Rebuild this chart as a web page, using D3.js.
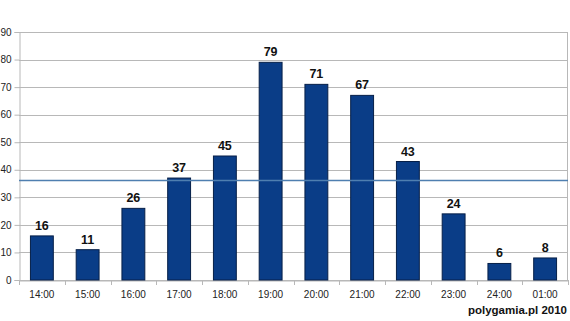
<!DOCTYPE html>
<html>
<head>
<meta charset="utf-8">
<script src="https://cdn.jsdelivr.net/npm/d3@7"></script>
<style>
  body { margin: 0; background: #fff; }
  svg { display: block; font-family: "Liberation Sans", Arial, sans-serif; }
</style>
</head>
<body>
<svg id="chart"></svg>
<script>
const width = 570;
const height = 321;

const hours = ["14:00", "15:00", "16:00", "17:00", "18:00", "19:00", "20:00", "21:00", "22:00", "23:00", "24:00", "01:00"];
const counts = [16, 11, 26, 37, 45, 79, 71, 67, 43, 24, 6, 8];
const yTicks = [0, 10, 20, 30, 40, 50, 60, 70, 80, 90];
const credit = "polygamia.pl 2010";

const margin = { top: 32, right: 2, bottom: 41, left: 19 };

const svg = d3.select("#chart").attr("width", width).attr("height", height);

const x = d3.scaleBand()
  .domain(hours)
  .range([margin.left, width - margin.right])
  .paddingInner(0.5)
  .paddingOuter(0.25);

const y = d3.scaleLinear()
  .domain([0, 90])
  .range([height - margin.bottom, margin.top]);

// gridlines
svg.append("g")
  .selectAll("line")
  .data(yTicks)
  .join("line")
  .attr("x1", margin.left)
  .attr("x2", width - margin.right)
  .attr("y1", d => Math.round(y(d)) + 0.5)
  .attr("y2", d => Math.round(y(d)) + 0.5)
  .attr("stroke", "#b8b8b8");

// right border
svg.append("line")
  .attr("x1", width - margin.right - 0.5).attr("x2", width - margin.right - 0.5)
  .attr("y1", y(90)).attr("y2", y(0))
  .attr("stroke", "#b8b8b8");

// y axis
const yAxis = svg.append("g")
  .attr("transform", `translate(${margin.left + 0.5},0)`)
  .call(d3.axisLeft(y).tickValues(yTicks).tickSize(5).tickPadding(3).tickFormat(d3.format("d")));
yAxis.select(".domain").attr("stroke", "#b8b8b8");
yAxis.selectAll(".tick line").attr("stroke", "#b8b8b8");
yAxis.selectAll("text").attr("fill", "#222").style("font-size", "10px");

// x axis with ticks at band boundaries
const xAxis = svg.append("g")
  .attr("transform", `translate(0,${Math.round(y(0)) + 0.5})`)
  .call(d3.axisBottom(x).tickSize(0).tickPadding(10));
xAxis.select(".domain").attr("stroke", "#b8b8b8");
xAxis.selectAll("text").attr("fill", "#222").style("font-size", "10px");
const step = x.step();
svg.append("g")
  .selectAll("line")
  .data(d3.range(hours.length + 1))
  .join("line")
  .attr("x1", i => Math.round(margin.left + i * step) + 0.5)
  .attr("x2", i => Math.round(margin.left + i * step) + 0.5)
  .attr("y1", y(0))
  .attr("y2", y(0) + 5)
  .attr("stroke", "#b8b8b8");

// bars
svg.append("g")
  .selectAll("rect")
  .data(hours)
  .join("rect")
  .attr("x", (d, i) => x(d))
  .attr("y", (d, i) => y(counts[i]))
  .attr("width", x.bandwidth())
  .attr("height", (d, i) => y(0) - y(counts[i]))
  .attr("fill", "#0a3d87")
  .attr("stroke", "#061f48")
  .attr("stroke-width", 1);

// mean line
const mean = d3.mean(counts);
svg.append("line")
  .attr("x1", margin.left)
  .attr("x2", width - margin.right)
  .attr("y1", y(mean))
  .attr("y2", y(mean))
  .attr("stroke", "#4f7fb0")
  .attr("stroke-width", 1.5);

// value labels
svg.append("g")
  .selectAll("text")
  .data(hours)
  .join("text")
  .attr("x", d => x(d) + x.bandwidth() / 2)
  .attr("y", (d, i) => y(counts[i]) - 6)
  .attr("text-anchor", "middle")
  .attr("font-weight", "bold")
  .attr("font-size", "12.5px")
  .attr("fill", "#111")
  .text((d, i) => counts[i]);

// credit
svg.append("text")
  .attr("x", width - 3)
  .attr("y", 314)
  .attr("text-anchor", "end")
  .attr("font-weight", "bold")
  .attr("font-size", "11.5px")
  .attr("fill", "#111")
  .text(credit);
</script>
</body>
</html>
